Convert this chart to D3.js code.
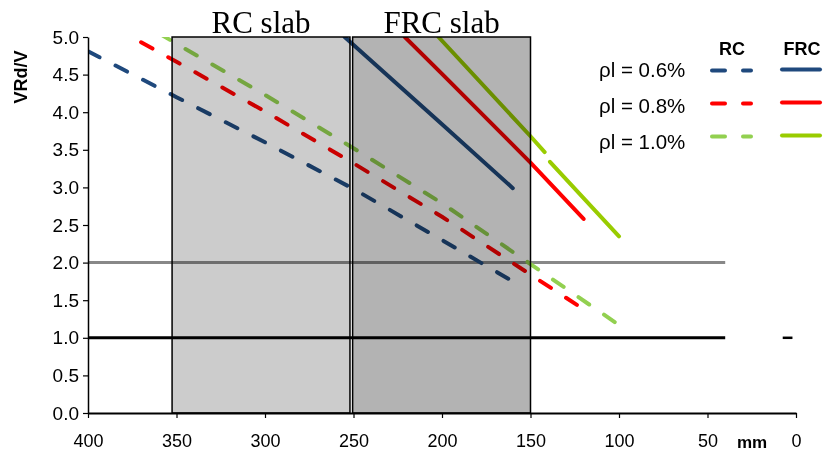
<!DOCTYPE html>
<html>
<head>
<meta charset="utf-8">
<script src="https://cdn.jsdelivr.net/npm/d3@7"></script>
<style>
body { margin: 0; background: #fff; }
svg { display: block; }
</style>
</head>
<body>
<div id="chart"></div>
<script>
// slab thickness (mm) against VRd/V
const rcBlue = [[400, 4.81], [350, 4.20], [300, 3.60], [250, 2.98], [200, 2.30], [160, 1.75]];
const rcRed = [[370, 4.93], [350, 4.67], [300, 4.01], [250, 3.32], [200, 2.61], [150, 1.84], [120, 1.38]];
const rcGreen = [[360, 5.05], [350, 4.91], [300, 4.23], [250, 3.52], [200, 2.79], [150, 1.98], [100, 1.17]];
const frcBlue = [[255, 5.0], [200, 3.84], [160, 2.99]];
const frcRed = [[221, 5.0], [200, 4.51], [150, 3.33], [120, 2.58]];
const frcGreen = [[202, 5.0], [150, 3.68], [142, 3.47], null, [139, 3.34], [100, 2.35]];

const legendLabels = ["ρl = 0.6%", "ρl = 0.8%", "ρl = 1.0%"];
const slabNames = ["RC slab", "FRC slab"];
const slabRanges = [[352.5, 252], [250.5, 150]];
const refLevels = [2.0, 1.0];
const refRange = [400, 40];
const stubRange = [7.5, 2];
const xTicks = [400, 350, 300, 250, 200, 150, 100, 50, 0];
const yTicks = [0, 0.5, 1, 1.5, 2, 2.5, 3, 3.5, 4, 4.5, 5];

const width = 824, height = 452;
const font = "'Liberation Sans', Arial, sans-serif";

const x = d3.scaleLinear().domain([400, 0]).range([88, 796]);
const y = d3.scaleLinear().domain([0, 5]).range([413, 37]);

const svg = d3.select("#chart").append("svg")
    .attr("width", width)
    .attr("height", height)
svg.append("rect").attr("width", width).attr("height", height).attr("fill", "#fff")

svg.append("clipPath").attr("id", "plot")
    .append("rect")
    .attr("x", x(400)).attr("y", y(5))
    .attr("width", x(0) - x(400)).attr("height", y(0) - y(5))

const plot = svg.append("g").attr("clip-path", "url(#plot)")

// reference levels
const refColors = ["#888888", "#000000"]
plot.selectAll(".ref")
    .data(refLevels)
    .join("line")
    .attr("x1", x(refRange[0])).attr("x2", x(refRange[1]))
    .attr("y1", d => y(d)).attr("y2", d => y(d))
    .attr("stroke", (d, i) => refColors[i])
    .attr("stroke-width", 3)
svg.append("line")
    .attr("x1", x(stubRange[0])).attr("x2", x(stubRange[1]))
    .attr("y1", y(1)).attr("y2", y(1))
    .attr("stroke", "#000").attr("stroke-width", 2.5)

// series
const line = d3.line()
    .defined(d => d != null)
    .x(d => x(d[0]))
    .y(d => y(d[1]))
const series = [
    { data: rcBlue, color: "#1F497D", dashed: true },
    { data: rcRed, color: "#FF0000", dashed: true },
    { data: rcGreen, color: "#92D050", dashed: true },
    { data: frcBlue, color: "#1F497D", dashed: false },
    { data: frcRed, color: "#FF0000", dashed: false },
    { data: frcGreen, color: "#99CC00", dashed: false },
]
plot.selectAll(".series")
    .data(series)
    .join("path")
    .attr("fill", "none")
    .attr("stroke", d => d.color)
    .attr("stroke-width", 4)
    .attr("stroke-linecap", "round")
    .attr("stroke-linejoin", "round")
    .attr("stroke-dasharray", d => d.dashed ? "13 18" : null)
    .attr("d", d => line(d.data))

// slab boxes, multiplied over the lines
const slabFills = ["#cccccc", "#b3b3b3"]
svg.selectAll(".slab")
    .data(slabRanges)
    .join("rect")
    .attr("x", d => x(d[0]))
    .attr("y", y(5))
    .attr("width", d => x(d[1]) - x(d[0]))
    .attr("height", y(0) - y(5))
    .attr("fill", (d, i) => slabFills[i])
    .attr("stroke", "#000")
    .attr("stroke-width", 1.5)
    .style("mix-blend-mode", "multiply")
svg.selectAll(".slabLabel")
    .data(slabRanges)
    .join("text")
    .attr("x", d => (x(d[0]) + x(d[1])) / 2)
    .attr("y", 33)
    .attr("text-anchor", "middle")
    .attr("font-family", "'Liberation Serif', 'Times New Roman', serif")
    .attr("font-size", 31)
    .text((d, i) => slabNames[i])

// axes
const xAxis = svg.append("g")
    .attr("transform", "translate(0," + y(0) + ")")
    .call(d3.axisBottom(x).tickValues(xTicks).tickSize(5).tickSizeOuter(0).tickPadding(16).tickFormat(d3.format("d")))
xAxis.select(".domain").attr("stroke-width", 2)
xAxis.selectAll(".tick line").attr("stroke-width", 1.2)
xAxis.selectAll("text").attr("font-family", font).attr("font-size", 18).attr("fill", "#000")

const yAxis = svg.append("g")
    .attr("transform", "translate(" + x(400) + ",0)")
    .call(d3.axisLeft(y).tickValues(yTicks).tickSize(5).tickSizeOuter(0).tickPadding(4).tickFormat(d3.format(".1f")))
yAxis.select(".domain").attr("stroke-width", 1.5)
yAxis.selectAll(".tick line").attr("stroke-width", 1.2)
yAxis.selectAll("text").attr("font-family", font).attr("font-size", 19).attr("fill", "#000")

svg.append("text")
    .attr("transform", "translate(27,77) rotate(-90)")
    .attr("text-anchor", "middle")
    .attr("font-family", font)
    .attr("font-weight", "bold")
    .attr("font-size", 18)
    .text("VRd/V")
svg.append("text")
    .attr("x", 752).attr("y", 448)
    .attr("text-anchor", "middle")
    .attr("font-family", font)
    .attr("font-weight", "bold")
    .attr("font-size", 17)
    .text("mm")

// legend
const legend = svg.append("g")
legend.selectAll(".head")
    .data(["RC", "FRC"])
    .join("text")
    .attr("x", (d, i) => i == 0 ? 732 : 802)
    .attr("y", 55)
    .attr("text-anchor", "middle")
    .attr("font-family", font)
    .attr("font-weight", "bold")
    .attr("font-size", 18)
    .text(d => d)
legend.selectAll(".lab")
    .data(legendLabels)
    .join("text")
    .attr("x", 599)
    .attr("y", (d, i) => 69.5 + i * 36)
    .attr("dy", "0.35em")
    .attr("font-family", font)
    .attr("font-size", 20.5)
    .text(d => d)
legend.selectAll(".rcKey")
    .data(series.slice(0, 3))
    .join("line")
    .attr("x1", 712).attr("x2", 751)
    .attr("y1", (d, i) => 70.5 + i * 33).attr("y2", (d, i) => 70.5 + i * 33)
    .attr("stroke", d => d.color)
    .attr("stroke-width", 4)
    .attr("stroke-linecap", "round")
    .attr("stroke-dasharray", "13 18")
legend.selectAll(".frcKey")
    .data(series.slice(3))
    .join("line")
    .attr("x1", 782).attr("x2", 820)
    .attr("y1", (d, i) => 69.5 + i * 33).attr("y2", (d, i) => 69.5 + i * 33)
    .attr("stroke", d => d.color)
    .attr("stroke-width", 4)
    .attr("stroke-linecap", "round")
</script>
</body>
</html>
